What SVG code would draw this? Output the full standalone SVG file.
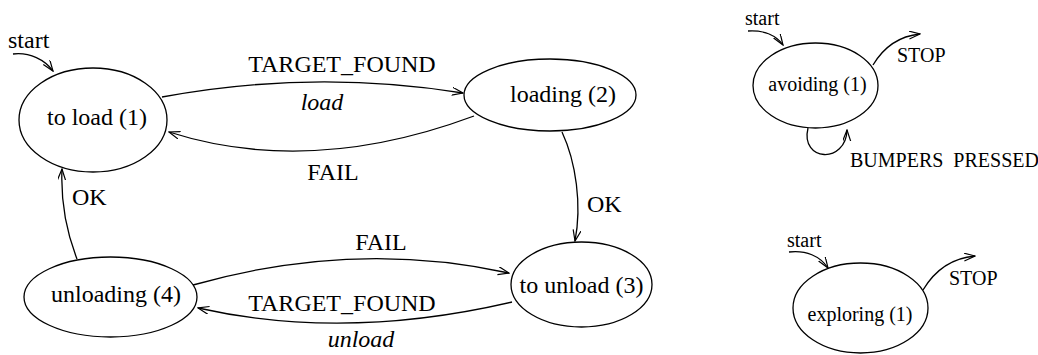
<svg xmlns="http://www.w3.org/2000/svg" width="1038" height="355" viewBox="0 0 1038 355">
  <style>
    .st { fill: none; stroke: #000; stroke-width: 1.3; }
    .lb { font-family: "Liberation Serif", "Times New Roman", serif; font-size: 24px; fill: #000; }
    .it { font-style: italic; }
    .sm { font-size: 20px; }
    .mid { text-anchor: middle; }
  </style>
  <defs>
    <marker id="arr" markerWidth="12" markerHeight="10" refX="11" refY="4" orient="auto" markerUnits="userSpaceOnUse">
      <path d="M0,0 L11,4 L0,8" fill="none" stroke="#000" stroke-width="1.2"/>
    </marker>
  </defs>

  <!-- connectors -->
  <g id="connectors" class="st">
    <path d="M13,54 C30,52 45,60 53,71" marker-end="url(#arr)"/>
    <path d="M162,97 Q313,69 463,93" marker-end="url(#arr)"/>
    <path d="M474,116 Q310,177 169,132" marker-end="url(#arr)"/>
    <path d="M562,132 C576,162 582,205 575,241" marker-end="url(#arr)"/>
    <path d="M193,285 Q355,239 509,273" marker-end="url(#arr)"/>
    <path d="M512,302 Q345,341 198,308" marker-end="url(#arr)"/>
    <path d="M77,259 Q60,215 62,169" marker-end="url(#arr)"/>
    <path d="M748,31 C765,30 777,36 783,45" marker-end="url(#arr)"/>
    <path d="M873,65 C885,45 900,36 920,34" marker-end="url(#arr)"/>
    <path d="M808,128 C800,162 846,164 847,130" marker-end="url(#arr)"/>
    <path d="M789,252 C806,250 820,256 828,268" marker-end="url(#arr)"/>
    <path d="M923,290 C935,270 952,258 975,256" marker-end="url(#arr)"/>
  </g>

  <!-- transition labels -->
  <g id="labels" class="lb">
    <text x="8" y="48">start</text>
    <text x="342" y="72" class="mid">TARGET_FOUND</text>
    <text x="322" y="110" class="mid it">load</text>
    <text x="333" y="180" class="mid">FAIL</text>
    <text x="587" y="212">OK</text>
    <text x="72" y="205">OK</text>
    <text x="381" y="250" class="mid">FAIL</text>
    <text x="342" y="311" class="mid">TARGET_FOUND</text>
    <text x="361" y="347" class="mid it">unload</text>
    <text x="745" y="25" class="sm">start</text>
    <text x="897" y="62" class="sm">STOP</text>
    <text x="850" y="167" class="sm" word-spacing="5">BUMPERS PRESSED</text>
    <text x="787" y="247" class="sm">start</text>
    <text x="949" y="285" class="sm">STOP</text>
  </g>

  <!-- states -->
  <g id="to-load">
    <ellipse cx="93" cy="120" rx="74" ry="52" class="st"/>
    <text x="97" y="125" class="lb mid">to load (1)</text>
  </g>
  <g id="loading">
    <ellipse cx="550" cy="95" rx="86" ry="36" class="st"/>
    <text x="563" y="102" class="lb mid">loading (2)</text>
  </g>
  <g id="to-unload">
    <ellipse cx="581.5" cy="284.5" rx="70.5" ry="42.5" class="st"/>
    <text x="581.5" y="293" class="lb mid">to unload (3)</text>
  </g>
  <g id="unloading">
    <ellipse cx="110.5" cy="297" rx="86.5" ry="40" class="st"/>
    <text x="116" y="302" class="lb mid">unloading (4)</text>
  </g>
  <g id="avoiding">
    <ellipse cx="815.5" cy="85.5" rx="62.5" ry="42.5" class="st"/>
    <text x="817.5" y="91" class="lb sm mid">avoiding (1)</text>
  </g>
  <g id="exploring">
    <ellipse cx="860.5" cy="308" rx="67.5" ry="45" class="st"/>
    <text x="860" y="321" class="lb sm mid">exploring (1)</text>
  </g>
</svg>
